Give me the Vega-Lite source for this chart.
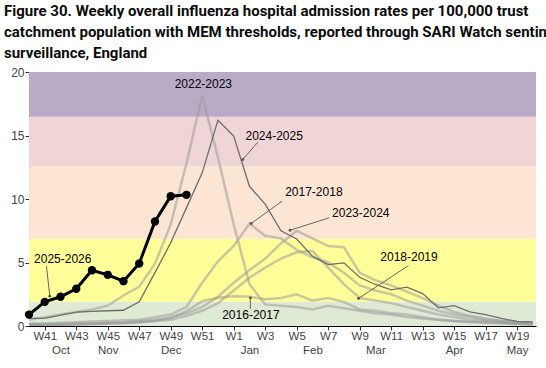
{
  "$schema": "https://vega.github.io/schema/vega-lite/v6.json",
  "width": 507,
  "height": 254,
  "autosize": "none",
  "padding": {"left": 29, "top": 72, "right": 10, "bottom": 42},
  "config": {"view": {"stroke": null}, "font": "Liberation Sans"},
  "title": {
    "text": ["Figure 30. Weekly overall influenza hospital admission rates per 100,000 trust", "catchment population with MEM thresholds, reported through SARI Watch sentinel", "surveillance, England"],
    "anchor": "start", "frame": "group", "font": "Roboto", "fontSize": 15, "fontWeight": "bold", "color": "#0b0c0c",
    "lineHeight": 21, "baseline": "alphabetic", "offset": 11, "dx": -25, "dy": 18
  },
  "resolve": {"axis": {"x": "independent", "y": "independent"}},
  "datasets": {
    "flu": [
      {"s":"2016-2017","w":0,"v":0.1},{"s":"2016-2017","w":1,"v":0.1},{"s":"2016-2017","w":2,"v":0.1},{"s":"2016-2017","w":3,"v":0.15},{"s":"2016-2017","w":4,"v":0.15},{"s":"2016-2017","w":5,"v":0.2},{"s":"2016-2017","w":6,"v":0.25},{"s":"2016-2017","w":7,"v":0.3},{"s":"2016-2017","w":8,"v":0.4},{"s":"2016-2017","w":9,"v":0.6},{"s":"2016-2017","w":10,"v":1.17},{"s":"2016-2017","w":11,"v":1.95},{"s":"2016-2017","w":12,"v":2.22},{"s":"2016-2017","w":13,"v":2.35},{"s":"2016-2017","w":14,"v":2.3},{"s":"2016-2017","w":15,"v":2.1},{"s":"2016-2017","w":16,"v":2.2},{"s":"2016-2017","w":17,"v":2.5},{"s":"2016-2017","w":18,"v":2.0},{"s":"2016-2017","w":19,"v":2.2},{"s":"2016-2017","w":20,"v":1.9},{"s":"2016-2017","w":21,"v":1.3},{"s":"2016-2017","w":22,"v":1.2},{"s":"2016-2017","w":23,"v":1.0},{"s":"2016-2017","w":24,"v":0.9},{"s":"2016-2017","w":25,"v":0.7},{"s":"2016-2017","w":26,"v":0.5},{"s":"2016-2017","w":27,"v":0.4},{"s":"2016-2017","w":28,"v":0.3},{"s":"2016-2017","w":29,"v":0.25},{"s":"2016-2017","w":30,"v":0.2},{"s":"2016-2017","w":31,"v":0.15},{"s":"2016-2017","w":32,"v":0.1},
      {"s":"2017-2018","w":0,"v":0.2},{"s":"2017-2018","w":1,"v":0.2},{"s":"2017-2018","w":2,"v":0.25},{"s":"2017-2018","w":3,"v":0.3},{"s":"2017-2018","w":4,"v":0.35},{"s":"2017-2018","w":5,"v":0.4},{"s":"2017-2018","w":6,"v":0.45},{"s":"2017-2018","w":7,"v":0.5},{"s":"2017-2018","w":8,"v":0.7},{"s":"2017-2018","w":9,"v":0.9},{"s":"2017-2018","w":10,"v":1.5},{"s":"2017-2018","w":11,"v":3.4},{"s":"2017-2018","w":12,"v":5.1},{"s":"2017-2018","w":13,"v":6.3},{"s":"2017-2018","w":14,"v":8.07},{"s":"2017-2018","w":15,"v":7.1},{"s":"2017-2018","w":16,"v":6.9},{"s":"2017-2018","w":17,"v":6.0},{"s":"2017-2018","w":18,"v":5.4},{"s":"2017-2018","w":19,"v":5.0},{"s":"2017-2018","w":20,"v":4.2},{"s":"2017-2018","w":21,"v":3.2},{"s":"2017-2018","w":22,"v":2.8},{"s":"2017-2018","w":23,"v":2.5},{"s":"2017-2018","w":24,"v":2.0},{"s":"2017-2018","w":25,"v":1.6},{"s":"2017-2018","w":26,"v":1.2},{"s":"2017-2018","w":27,"v":0.9},{"s":"2017-2018","w":28,"v":0.7},{"s":"2017-2018","w":29,"v":0.5},{"s":"2017-2018","w":30,"v":0.4},{"s":"2017-2018","w":31,"v":0.3},{"s":"2017-2018","w":32,"v":0.25},
      {"s":"2018-2019","w":0,"v":0.1},{"s":"2018-2019","w":1,"v":0.1},{"s":"2018-2019","w":2,"v":0.1},{"s":"2018-2019","w":3,"v":0.1},{"s":"2018-2019","w":4,"v":0.15},{"s":"2018-2019","w":5,"v":0.2},{"s":"2018-2019","w":6,"v":0.2},{"s":"2018-2019","w":7,"v":0.3},{"s":"2018-2019","w":8,"v":0.4},{"s":"2018-2019","w":9,"v":0.5},{"s":"2018-2019","w":10,"v":0.8},{"s":"2018-2019","w":11,"v":1.2},{"s":"2018-2019","w":12,"v":1.8},{"s":"2018-2019","w":13,"v":2.8},{"s":"2018-2019","w":14,"v":3.8},{"s":"2018-2019","w":15,"v":4.6},{"s":"2018-2019","w":16,"v":5.3},{"s":"2018-2019","w":17,"v":5.8},{"s":"2018-2019","w":18,"v":5.9},{"s":"2018-2019","w":19,"v":4.6},{"s":"2018-2019","w":20,"v":3.3},{"s":"2018-2019","w":21,"v":2.2},{"s":"2018-2019","w":22,"v":2.0},{"s":"2018-2019","w":23,"v":1.8},{"s":"2018-2019","w":24,"v":1.5},{"s":"2018-2019","w":25,"v":1.2},{"s":"2018-2019","w":26,"v":0.9},{"s":"2018-2019","w":27,"v":0.7},{"s":"2018-2019","w":28,"v":0.5},{"s":"2018-2019","w":29,"v":0.4},{"s":"2018-2019","w":30,"v":0.3},{"s":"2018-2019","w":31,"v":0.2},{"s":"2018-2019","w":32,"v":0.15},
      {"s":"2022-2023","w":0,"v":0.5},{"s":"2022-2023","w":1,"v":0.7},{"s":"2022-2023","w":2,"v":0.9},{"s":"2022-2023","w":3,"v":1.1},{"s":"2022-2023","w":4,"v":1.3},{"s":"2022-2023","w":5,"v":1.6},{"s":"2022-2023","w":6,"v":2.4},{"s":"2022-2023","w":7,"v":3.1},{"s":"2022-2023","w":8,"v":4.9},{"s":"2022-2023","w":9,"v":8.0},{"s":"2022-2023","w":10,"v":12.8},{"s":"2022-2023","w":11,"v":18.15},{"s":"2022-2023","w":12,"v":13.3},{"s":"2022-2023","w":13,"v":8.0},{"s":"2022-2023","w":14,"v":3.3},{"s":"2022-2023","w":15,"v":1.7},{"s":"2022-2023","w":16,"v":1.6},{"s":"2022-2023","w":17,"v":1.5},{"s":"2022-2023","w":18,"v":1.3},{"s":"2022-2023","w":19,"v":1.6},{"s":"2022-2023","w":20,"v":1.4},{"s":"2022-2023","w":21,"v":1.2},{"s":"2022-2023","w":22,"v":1.0},{"s":"2022-2023","w":23,"v":0.9},{"s":"2022-2023","w":24,"v":0.7},{"s":"2022-2023","w":25,"v":0.6},{"s":"2022-2023","w":26,"v":0.5},{"s":"2022-2023","w":27,"v":0.4},{"s":"2022-2023","w":28,"v":0.35},{"s":"2022-2023","w":29,"v":0.3},{"s":"2022-2023","w":30,"v":0.25},{"s":"2022-2023","w":31,"v":0.2},{"s":"2022-2023","w":32,"v":0.2},
      {"s":"2023-2024","w":0,"v":0.1},{"s":"2023-2024","w":1,"v":0.1},{"s":"2023-2024","w":2,"v":0.15},{"s":"2023-2024","w":3,"v":0.2},{"s":"2023-2024","w":4,"v":0.2},{"s":"2023-2024","w":5,"v":0.25},{"s":"2023-2024","w":6,"v":0.3},{"s":"2023-2024","w":7,"v":0.4},{"s":"2023-2024","w":8,"v":0.5},{"s":"2023-2024","w":9,"v":0.7},{"s":"2023-2024","w":10,"v":1.0},{"s":"2023-2024","w":11,"v":1.5},{"s":"2023-2024","w":12,"v":2.3},{"s":"2023-2024","w":13,"v":3.4},{"s":"2023-2024","w":14,"v":4.4},{"s":"2023-2024","w":15,"v":5.3},{"s":"2023-2024","w":16,"v":6.5},{"s":"2023-2024","w":17,"v":7.5},{"s":"2023-2024","w":18,"v":6.9},{"s":"2023-2024","w":19,"v":6.3},{"s":"2023-2024","w":20,"v":6.2},{"s":"2023-2024","w":21,"v":4.2},{"s":"2023-2024","w":22,"v":3.6},{"s":"2023-2024","w":23,"v":3.2},{"s":"2023-2024","w":24,"v":2.7},{"s":"2023-2024","w":25,"v":2.2},{"s":"2023-2024","w":26,"v":1.6},{"s":"2023-2024","w":27,"v":1.1},{"s":"2023-2024","w":28,"v":0.8},{"s":"2023-2024","w":29,"v":0.6},{"s":"2023-2024","w":30,"v":0.4},{"s":"2023-2024","w":31,"v":0.3},{"s":"2023-2024","w":32,"v":0.2},
      {"s":"2024-2025","w":0,"v":0.6},{"s":"2024-2025","w":1,"v":0.6},{"s":"2024-2025","w":2,"v":0.85},{"s":"2024-2025","w":3,"v":1.09},{"s":"2024-2025","w":4,"v":1.15},{"s":"2024-2025","w":5,"v":1.2},{"s":"2024-2025","w":6,"v":1.24},{"s":"2024-2025","w":7,"v":1.9},{"s":"2024-2025","w":8,"v":4.2},{"s":"2024-2025","w":9,"v":6.55},{"s":"2024-2025","w":10,"v":9.3},{"s":"2024-2025","w":11,"v":12.06},{"s":"2024-2025","w":12,"v":16.2},{"s":"2024-2025","w":13,"v":14.95},{"s":"2024-2025","w":14,"v":11.0},{"s":"2024-2025","w":15,"v":9.6},{"s":"2024-2025","w":16,"v":7.5},{"s":"2024-2025","w":17,"v":6.85},{"s":"2024-2025","w":18,"v":5.5},{"s":"2024-2025","w":19,"v":4.84},{"s":"2024-2025","w":20,"v":4.97},{"s":"2024-2025","w":21,"v":3.84},{"s":"2024-2025","w":22,"v":3.27},{"s":"2024-2025","w":23,"v":2.85},{"s":"2024-2025","w":24,"v":3.06},{"s":"2024-2025","w":25,"v":2.55},{"s":"2024-2025","w":26,"v":1.43},{"s":"2024-2025","w":27,"v":1.61},{"s":"2024-2025","w":28,"v":1.12},{"s":"2024-2025","w":29,"v":0.9},{"s":"2024-2025","w":30,"v":0.6},{"s":"2024-2025","w":31,"v":0.36},{"s":"2024-2025","w":32,"v":0.33},
      {"s":"2025-2026","w":0,"v":0.9},{"s":"2025-2026","w":1,"v":1.9},{"s":"2025-2026","w":2,"v":2.3},{"s":"2025-2026","w":3,"v":2.93},{"s":"2025-2026","w":4,"v":4.39},{"s":"2025-2026","w":5,"v":4.03},{"s":"2025-2026","w":6,"v":3.53},{"s":"2025-2026","w":7,"v":4.92},{"s":"2025-2026","w":8,"v":8.23},{"s":"2025-2026","w":9,"v":10.22},{"s":"2025-2026","w":10,"v":10.33}
    ]
  },
  "layer": [
    {
      "data": {"values": [
        {"level":"Baseline","lo":0,"hi":1.9},
        {"level":"Low","lo":1.9,"hi":6.87},
        {"level":"Medium","lo":6.87,"hi":12.58},
        {"level":"High","lo":12.58,"hi":16.47},
        {"level":"Very high","lo":16.47,"hi":20}
      ]},
      "mark": {"type": "rect"},
      "encoding": {
        "y": {"field": "lo", "type": "quantitative", "scale": {"domain": [0, 20], "nice": false}, "axis": {"values": [0,5,10,15,20], "tickSize": 4, "tickColor": "#333", "domainColor": "#000", "labelColor": "#444", "labelFontSize": 12, "labelPadding": 1, "grid": false, "title": null}},
        "y2": {"field": "hi"},
        "color": {"field": "level", "type": "nominal", "scale": {"domain": ["Baseline","Low","Medium","High","Very high"], "range": ["#deead5","#ffff99","#fde5d3","#f0d5d6","#b9aac7"]}, "legend": null}
      }
    },
    {
      "data": {"name": "flu"},
      "transform": [{"filter": "datum.s != '2024-2025' && datum.s != '2025-2026'"}],
      "mark": {"type": "line", "strokeWidth": 2.5, "color": "#9a9a9a", "opacity": 0.55},
      "encoding": {
        "x": {"field": "w", "type": "quantitative", "scale": {"domain": [0, 32.2], "nice": false, "zero": false},
          "axis": {"orient": "bottom", "values": [1,3,5,7,9,11,13,15,17,19,21,23,25,27,29,31],
            "labelExpr": "datum.value <= 12 ? 'W' + (datum.value + 40) : 'W' + (datum.value - 12)",
            "tickSize": 4, "tickColor": "#333", "domainColor": "#000", "labelColor": "#444", "labelFontSize": 11.5, "labelPadding": 0, "labelOverlap": false, "labelFlush": false, "grid": false, "title": null}},
        "y": {"field": "v", "type": "quantitative", "axis": null},
        "detail": {"field": "s"}
      }
    },
    {
      "data": {"name": "flu"},
      "transform": [{"filter": "datum.s == '2024-2025'"}],
      "mark": {"type": "line", "strokeWidth": 1.3, "color": "#6e6e6e"},
      "encoding": {
        "x": {"field": "w", "type": "quantitative",
          "axis": {"orient": "bottom", "values": [2,5,9,14,18,22,27,31],
            "labelExpr": "datum.value == 2 ? 'Oct' : datum.value == 5 ? 'Nov' : datum.value == 9 ? 'Dec' : datum.value == 14 ? 'Jan' : datum.value == 18 ? 'Feb' : datum.value == 22 ? 'Mar' : datum.value == 27 ? 'Apr' : 'May'",
            "domain": false, "ticks": false, "labelColor": "#444", "labelFontSize": 11.5, "labelPadding": 18, "labelOverlap": false, "labelFlush": false, "grid": false, "title": null}},
        "y": {"field": "v", "type": "quantitative", "axis": null}
      }
    },
    {
      "data": {"name": "flu"},
      "transform": [{"filter": "datum.s == '2025-2026'"}],
      "mark": {"type": "line", "strokeWidth": 3, "color": "#000", "point": {"filled": true, "size": 70, "color": "#000"}},
      "encoding": {
        "x": {"field": "w", "type": "quantitative", "axis": null},
        "y": {"field": "v", "type": "quantitative", "axis": null}
      }
    },
    {
      "data": {"values": [
        {"s":"2024-2025","x":14.53,"y":14.47,"x2":13.58,"y2":13.11},
        {"s":"2017-2018","x":16.07,"y":9.83,"x2":14.11,"y2":8.07},
        {"s":"2023-2024","x":19.07,"y":8.52,"x2":16.58,"y2":7.54},
        {"s":"2018-2019","x":24.1,"y":4.76,"x2":20.93,"y2":2.17},
        {"s":"2016-2017","x":14.06,"y":1.35,"x2":14.06,"y2":2.22},
        {"s":"2025-2026","x":1.11,"y":4.71,"x2":1.32,"y2":2.35}
      ]},
      "layer": [
        {"mark": {"type": "rule", "color": "#666", "strokeWidth": 1},
         "encoding": {"x": {"field": "x", "type": "quantitative", "axis": null}, "y": {"field": "y", "type": "quantitative", "axis": null}, "x2": {"field": "x2"}, "y2": {"field": "y2"}}},
        {"mark": {"type": "point", "filled": true, "size": 8, "color": "#555", "opacity": 1},
         "encoding": {"x": {"field": "x2", "type": "quantitative", "axis": null}, "y": {"field": "y2", "type": "quantitative", "axis": null}}}
      ]
    },
    {
      "data": {"values": [
        {"label":"2022-2023","x":9.25,"y":19.02},
        {"label":"2024-2025","x":13.75,"y":15.0},
        {"label":"2017-2018","x":16.27,"y":10.54},
        {"label":"2023-2024","x":19.25,"y":8.91},
        {"label":"2018-2019","x":22.31,"y":5.45},
        {"label":"2016-2017","x":12.27,"y":0.85},
        {"label":"2025-2026","x":0.32,"y":5.24}
      ]},
      "mark": {"type": "text", "align": "left", "baseline": "middle", "fontSize": 12, "color": "#000"},
      "encoding": {
        "x": {"field": "x", "type": "quantitative", "axis": null},
        "y": {"field": "y", "type": "quantitative", "axis": null},
        "text": {"field": "label"}
      }
    }
  ]
}
